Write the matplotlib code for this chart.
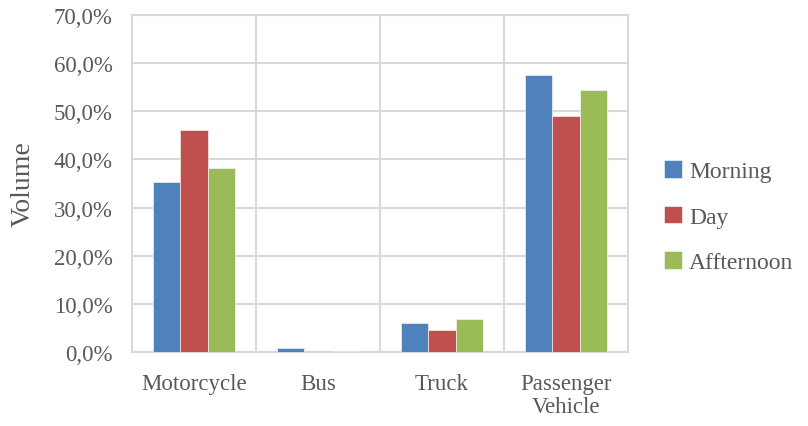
import numpy as np
import matplotlib.pyplot as plt
from matplotlib.ticker import FuncFormatter, MultipleLocator, FixedLocator

categories = ['Motorcycle', 'Bus', 'Truck', 'Passenger\nVehicle']
series = ['Morning', 'Day', 'Affternoon']
morning = [35.4, 0.8, 6.0, 57.5]
day = [46.1, 0.2, 4.5, 49.1]
afternoon = [38.2, 0.2, 6.8, 54.5]
colors = ['#4F81BD', '#C0504D', '#9BBB59']

plt.rcParams['font.family'] = ['Liberation Serif', 'DejaVu Serif']
text_col = '#595959'
grid_col = '#D9D9D9'

fig = plt.figure(figsize=(8.08, 4.27), dpi=100)
ax = fig.add_axes([0.1634, 0.1733, 0.6138, 0.7892])

x = np.arange(len(categories))
w = 0.223
for i, (vals, name) in enumerate(zip([morning, day, afternoon], series)):
    ax.bar(x + (i - 1) * w, vals, width=w, color=colors[i], label=name,
           edgecolor='white', linewidth=0.4, zorder=3)

ax.set_xlim(-0.5, len(categories) - 0.5)
ax.set_ylim(0, 70)
ax.yaxis.set_major_locator(MultipleLocator(10))
ax.yaxis.set_major_formatter(FuncFormatter(lambda v, p: f'{v:.1f}%'.replace('.', ',')))
ax.set_xticks(x)
ax.set_xticklabels(categories)
ax.xaxis.set_minor_locator(FixedLocator(np.arange(-0.5, len(categories), 1)))

ax.grid(True, axis='y', which='major', color=grid_col, linewidth=1.5, zorder=0)
ax.grid(True, axis='x', which='minor', color=grid_col, linewidth=1.5, zorder=0)
for s in ax.spines.values():
    s.set_color(grid_col)
    s.set_linewidth(1.5)
ax.tick_params(axis='both', which='both', length=0, colors=text_col, labelsize=16.5)
ax.tick_params(axis='y', pad=14)
ax.tick_params(axis='x', pad=15)
for lbl in ax.get_xticklabels():
    lbl.set_linespacing(1.15)

ax.set_ylabel('Volume', fontsize=20, color=text_col, labelpad=13)

leg = fig.legend(loc='center left', bbox_to_anchor=(0.822, 0.49), frameon=False,
                 fontsize=17, handlelength=0.75, handleheight=0.75,
                 labelspacing=1.0, handletextpad=0.3, borderpad=0, borderaxespad=0)
for t in leg.get_texts():
    t.set_color(text_col)

fig.savefig('out.png', dpi=100)
